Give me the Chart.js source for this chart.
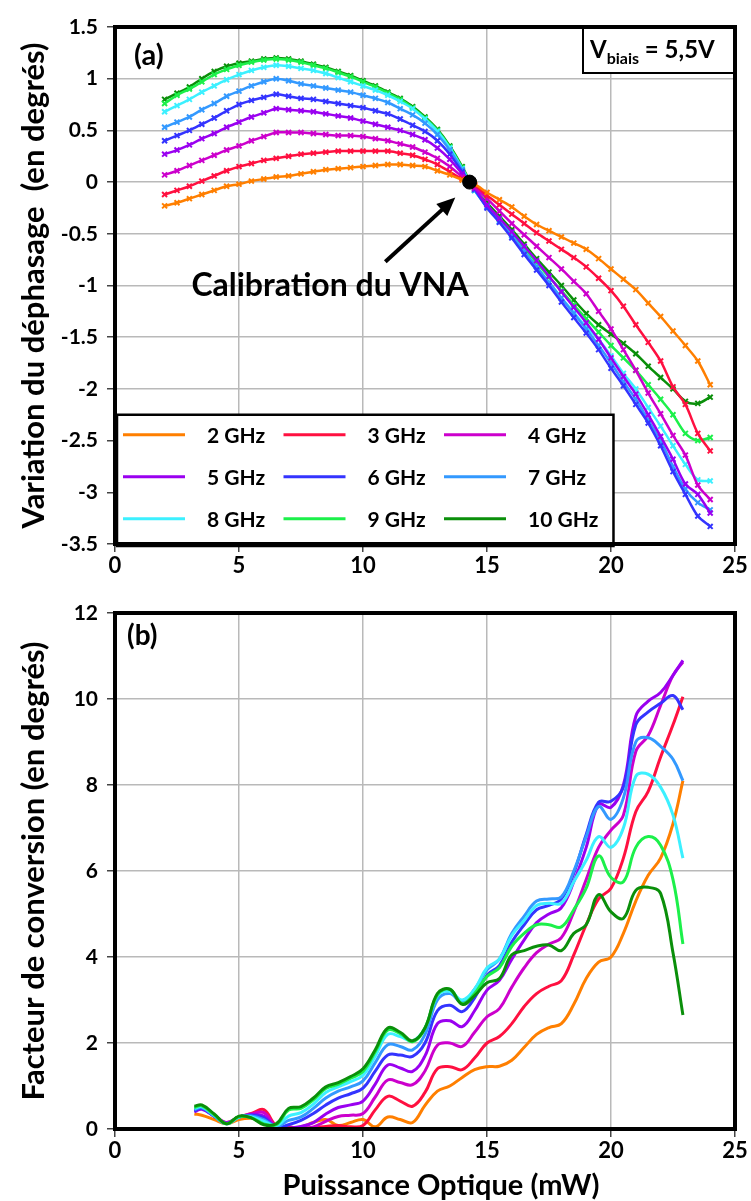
<!DOCTYPE html>
<html>
<head>
<meta charset="utf-8">
<script src="https://cdn.jsdelivr.net/npm/chart.js@4.4.1/dist/chart.umd.min.js"></script>
<style>
  html, body { margin: 0; padding: 0; background: #fff; }
  #wrapA { position: absolute; left: 0; top: 0; width: 751px; height: 590px; }
  #wrapB { position: absolute; left: 0; top: 590px; width: 751px; height: 611px; }
</style>
</head>
<body>
<div id="wrapA"><canvas id="phaseChart" width="751" height="590"></canvas></div>
<div id="wrapB"><canvas id="convChart" width="751" height="611"></canvas></div>
<script>
// ---- data (a) : phase variation vs optical power ----
const freqLabels = ['2 GHz','3 GHz','4 GHz','5 GHz','6 GHz','7 GHz','8 GHz','9 GHz','10 GHz'];
const colors = ['#ff7f00','#ff1040','#cc00cc','#9a00f0','#3434ff','#3399ff','#3cf0ff','#1cf04a','#0a8f0a'];

const powerA = [2,2.5,3,3.5,4,4.5,5,5.5,6,6.5,7,7.5,8,8.5,9,9.5,10,10.5,11,11.5,12,12.5,13,13.5,14,14.5,
  15,15.5,16,16.5,17,17.5,18,18.5,19,19.5,20,20.5,21,21.5,22,22.5,23,23.5,24];

const phase2 = [-0.23,-0.20,-0.16,-0.12,-0.08,-0.04,-0.02,0.01,0.03,0.05,0.06,0.08,0.10,0.12,0.13,0.14,0.15,0.16,0.17,0.17,
  0.16,0.15,0.11,0.07,0.02,-0.02,-0.10,-0.17,-0.24,-0.33,-0.41,-0.47,-0.53,-0.59,-0.65,-0.74,-0.84,-0.94,-1.04,-1.17,
  -1.30,-1.44,-1.58,-1.73,-1.96];
const phase3 = [-0.12,-0.08,-0.04,0.01,0.06,0.11,0.15,0.18,0.21,0.23,0.25,0.27,0.28,0.29,0.30,0.30,0.30,0.30,0.30,0.28,
  0.26,0.22,0.17,0.10,0.03,-0.03,-0.13,-0.22,-0.31,-0.40,-0.49,-0.57,-0.65,-0.73,-0.82,-0.93,-1.05,-1.20,-1.38,-1.55,
  -1.73,-1.98,-2.15,-2.43,-2.60];
const phase4 = [0.07,0.11,0.16,0.21,0.26,0.31,0.35,0.40,0.44,0.48,0.48,0.48,0.47,0.46,0.45,0.45,0.44,0.42,0.40,0.37,
  0.34,0.29,0.23,0.15,0.05,-0.05,-0.16,-0.28,-0.40,-0.51,-0.62,-0.73,-0.84,-0.96,-1.08,-1.25,-1.42,-1.62,-1.82,-2.04,
  -2.24,-2.45,-2.64,-2.93,-3.07];
const phase5 = [0.27,0.31,0.36,0.42,0.47,0.53,0.58,0.63,0.67,0.71,0.70,0.69,0.68,0.66,0.64,0.62,0.59,0.56,0.53,0.50,
  0.46,0.41,0.33,0.22,0.08,-0.06,-0.22,-0.35,-0.48,-0.62,-0.76,-0.91,-1.06,-1.21,-1.36,-1.52,-1.70,-1.88,-2.05,-2.25,
  -2.46,-2.68,-2.92,-3.02,-3.20];
const phase6 = [0.40,0.45,0.50,0.56,0.62,0.69,0.75,0.79,0.82,0.85,0.83,0.81,0.80,0.78,0.76,0.74,0.72,0.69,0.66,0.61,
  0.55,0.49,0.40,0.27,0.10,-0.07,-0.25,-0.39,-0.54,-0.70,-0.85,-1.00,-1.16,-1.31,-1.46,-1.62,-1.80,-1.97,-2.15,-2.33,
  -2.55,-2.80,-3.02,-3.23,-3.33];
const phase7 = [0.53,0.58,0.63,0.70,0.76,0.83,0.88,0.93,0.97,1.00,0.98,0.95,0.93,0.91,0.89,0.87,0.84,0.81,0.77,0.71,
  0.65,0.57,0.46,0.31,0.12,-0.08,-0.24,-0.38,-0.52,-0.67,-0.82,-0.97,-1.12,-1.27,-1.42,-1.58,-1.75,-1.93,-2.10,-2.30,
  -2.50,-2.75,-2.97,-3.10,-3.17];
const phase8 = [0.68,0.74,0.80,0.87,0.93,0.99,1.04,1.08,1.11,1.13,1.12,1.10,1.08,1.05,1.01,0.97,0.93,0.89,0.84,0.78,
  0.71,0.61,0.49,0.33,0.13,-0.08,-0.24,-0.38,-0.52,-0.67,-0.82,-0.97,-1.12,-1.26,-1.40,-1.52,-1.68,-1.85,-2.00,-2.18,
  -2.36,-2.55,-2.73,-2.88,-2.89];
const phase9 = [0.76,0.84,0.90,0.97,1.04,1.09,1.13,1.16,1.18,1.19,1.18,1.16,1.13,1.10,1.06,1.02,0.97,0.92,0.86,0.80,
  0.72,0.62,0.50,0.34,0.14,-0.08,-0.22,-0.36,-0.50,-0.64,-0.78,-0.92,-1.05,-1.19,-1.32,-1.45,-1.58,-1.70,-1.82,-1.96,
  -2.10,-2.25,-2.43,-2.50,-2.47];
const phase10 = [0.80,0.86,0.92,1.00,1.07,1.12,1.15,1.17,1.19,1.20,1.19,1.17,1.14,1.11,1.07,1.03,0.98,0.93,0.87,0.81,
  0.73,0.63,0.51,0.35,0.15,-0.07,-0.20,-0.33,-0.46,-0.60,-0.74,-0.87,-1.00,-1.14,-1.27,-1.38,-1.47,-1.56,-1.66,-1.78,
  -1.89,-2.00,-2.12,-2.14,-2.08];

const calibPoint = [14.3, 0];

// ---- data (b) : conversion factor vs optical power ----
const powerB = [3.2,3.5,4,4.5,5,5.5,6,6.5,7,7.5,8,8.5,9,9.5,10,10.5,11,11.5,12,12.5,13,13.5,14,14.5,
  15,15.5,16,16.5,17,17.5,18,18.5,19,19.5,20,20.5,21,21.5,22,22.5,22.9];

const conv2 = [0.35,0.32,0.22,0.12,0.22,0.25,0.20,0.05,0.02,0.05,0.15,0.22,0.08,0.15,0.22,0.05,0.28,0.22,0.15,0.55,
  0.88,1.00,1.20,1.38,1.45,1.46,1.60,1.90,2.20,2.36,2.45,2.90,3.50,3.88,4.00,4.55,5.30,5.90,6.30,7.10,8.10];
const conv3 = [0.45,0.48,0.30,0.15,0.28,0.36,0.45,0.08,0.05,0.02,0.03,0.06,0.08,0.05,0.08,0.45,0.76,0.65,0.53,0.85,
  1.40,1.45,1.38,1.65,2.00,2.15,2.45,2.85,3.15,3.32,3.45,4.05,4.75,5.35,5.60,6.30,7.38,7.85,8.65,9.40,10.05];
const conv4 = [0.42,0.48,0.32,0.15,0.28,0.35,0.38,0.05,0.00,0.02,0.05,0.18,0.29,0.32,0.36,0.75,1.14,1.08,1.03,1.35,
  1.95,2.00,1.92,2.25,2.61,2.80,3.30,3.75,4.10,4.30,4.45,5.05,5.80,6.55,6.95,7.30,8.78,9.15,9.85,10.55,10.86];
const conv5 = [0.40,0.46,0.30,0.14,0.28,0.33,0.30,0.03,0.02,0.06,0.15,0.35,0.50,0.56,0.65,1.05,1.49,1.42,1.34,1.70,
  2.45,2.52,2.38,2.75,3.23,3.46,3.95,4.40,4.80,5.00,5.15,5.75,6.55,7.55,7.48,8.00,9.60,9.95,10.15,10.55,10.90];
const conv6 = [0.42,0.48,0.30,0.13,0.28,0.32,0.26,0.04,0.10,0.20,0.36,0.56,0.72,0.82,0.95,1.35,1.72,1.72,1.69,2.00,
  2.75,2.88,2.73,3.05,3.58,3.80,4.35,4.75,5.10,5.20,5.35,5.95,6.85,7.60,7.62,7.95,9.40,9.70,9.90,10.08,9.75];
const conv7 = [0.45,0.50,0.30,0.12,0.28,0.30,0.22,0.06,0.20,0.28,0.48,0.72,0.88,0.98,1.12,1.55,1.96,1.92,1.84,2.20,
  3.00,3.15,2.95,3.25,3.70,3.95,4.55,4.95,5.30,5.35,5.40,6.00,6.80,7.50,7.20,7.70,9.00,9.10,8.90,8.60,8.10];
const conv8 = [0.48,0.52,0.32,0.12,0.28,0.28,0.18,0.08,0.30,0.38,0.58,0.85,0.98,1.10,1.25,1.70,2.20,2.15,2.05,2.35,
  3.10,3.20,3.00,3.25,3.75,3.95,4.50,4.85,5.20,5.25,5.25,5.75,6.25,6.80,6.55,7.00,8.20,8.25,7.95,7.30,6.30];
const conv9 = [0.50,0.54,0.33,0.12,0.29,0.26,0.12,0.10,0.44,0.48,0.68,0.94,1.04,1.18,1.34,1.80,2.30,2.22,2.03,2.35,
  3.12,3.25,2.92,3.15,3.55,3.75,4.25,4.55,4.75,4.75,4.70,5.10,5.60,6.35,5.85,5.75,6.55,6.80,6.60,5.80,4.30];
const conv10 = [0.53,0.56,0.35,0.12,0.30,0.26,0.10,0.12,0.48,0.52,0.72,0.98,1.08,1.22,1.40,1.85,2.35,2.25,2.05,2.35,
  3.15,3.25,2.90,3.10,3.40,3.50,4.05,4.15,4.25,4.28,4.15,4.55,4.75,5.45,5.05,4.90,5.55,5.62,5.48,4.10,2.65];

const phaseSeries = [phase2, phase3, phase4, phase5, phase6, phase7, phase8, phase9, phase10];
const convSeries = [conv2, conv3, conv4, conv5, conv6, conv7, conv8, conv9, conv10];

const FONT = 'Lato, "Open Sans", sans-serif';
Chart.defaults.font.family = FONT;
Chart.defaults.font.weight = 'bold';
Chart.defaults.color = '#000';

function pairs(xs, ys) {
  return ys.map((v, i) => ({ x: xs[i], y: v }));
}
const tickFmt = v => String(Math.round(v * 10) / 10);

// thick black frame around the plot area
const framePlugin = {
  id: 'frame',
  afterDraw(chart) {
    const { ctx, chartArea: a } = chart;
    ctx.save();
    ctx.strokeStyle = '#000';
    ctx.lineWidth = 4;
    ctx.strokeRect(a.left, a.top, a.right - a.left, a.bottom - a.top);
    ctx.restore();
  }
};

// labels, arrow, bias box and legend for panel (a)
const notesA = {
  id: 'notesA',
  afterDatasetsDraw(chart) {
    const { ctx, chartArea: a, scales: { x: xs, y: ys } } = chart;
    ctx.save();
    ctx.fillStyle = '#000';
    ctx.textBaseline = 'middle';
    ctx.font = 'bold 29px ' + FONT;
    ctx.fillText('(a)', a.left + 19, a.top + 29);

    // bias box
    const bl = a.right - 152, bt = a.top;
    ctx.fillStyle = '#fff';
    ctx.fillRect(bl, bt, 152, 46);
    ctx.strokeStyle = '#000';
    ctx.lineWidth = 2;
    ctx.strokeRect(bl, bt, 152, 46);
    ctx.fillStyle = '#000';
    ctx.textBaseline = 'alphabetic';
    let tx = bl + 7;
    ctx.font = 'bold 24px ' + FONT;
    ctx.fillText('V', tx, bt + 31);
    tx += ctx.measureText('V').width;
    ctx.font = 'bold 16px ' + FONT;
    ctx.fillText('biais', tx, bt + 37);
    tx += ctx.measureText('biais').width;
    ctx.font = 'bold 24px ' + FONT;
    ctx.fillText(' = 5,5V', tx, bt + 31);

    // arrow to calibration point
    const x0 = xs.getPixelForValue(10.9), y0 = ys.getPixelForValue(-0.77);
    const x1 = xs.getPixelForValue(13.72), y1 = ys.getPixelForValue(-0.15);
    const ang = Math.atan2(y1 - y0, x1 - x0);
    ctx.strokeStyle = '#000';
    ctx.lineWidth = 4;
    ctx.beginPath();
    ctx.moveTo(x0, y0);
    ctx.lineTo(x1 - 10 * Math.cos(ang), y1 - 10 * Math.sin(ang));
    ctx.stroke();
    ctx.beginPath();
    ctx.moveTo(x1, y1);
    ctx.lineTo(x1 - 20 * Math.cos(ang - 0.42), y1 - 20 * Math.sin(ang - 0.42));
    ctx.lineTo(x1 - 20 * Math.cos(ang + 0.42), y1 - 20 * Math.sin(ang + 0.42));
    ctx.closePath();
    ctx.fill();

    ctx.font = 'bold 32px ' + FONT;
    ctx.textAlign = 'center';
    ctx.textBaseline = 'middle';
    ctx.fillText('Calibration du VNA', xs.getPixelForValue(8.67), ys.getPixelForValue(-1.0));

    // legend
    const lx = xs.getPixelForValue(0) + 2, lr = xs.getPixelForValue(20.1);
    const lt = ys.getPixelForValue(-2.25), lb = a.bottom + 2;
    ctx.fillStyle = '#fff';
    ctx.fillRect(lx, lt, lr - lx, lb - lt);
    ctx.strokeStyle = '#000';
    ctx.lineWidth = 2.5;
    ctx.strokeRect(lx, lt, lr - lx, lb - lt);
    ctx.textAlign = 'left';
    ctx.font = 'bold 21px ' + FONT;
    freqLabels.forEach((lab, i) => {
      const cx = lx + 6 + (i % 3) * 160.5;
      const cy = lt + 20 + Math.floor(i / 3) * 42;
      ctx.strokeStyle = colors[i];
      ctx.lineWidth = 3;
      ctx.beginPath();
      ctx.moveTo(cx, cy);
      ctx.lineTo(cx + 62, cy);
      ctx.stroke();
      ctx.fillStyle = '#000';
      ctx.fillText(lab, cx + 84, cy + 1);
    });
    ctx.restore();
  }
};

// panel label and x-axis title for panel (b)
const notesB = {
  id: 'notesB',
  afterDatasetsDraw(chart) {
    const { ctx, chartArea: a, width, height } = chart;
    ctx.save();
    ctx.fillStyle = '#000';
    ctx.textBaseline = 'middle';
    ctx.font = 'bold 28px ' + FONT;
    ctx.fillText('(b)', a.left + 12, a.top + 23);
    ctx.textAlign = 'center';
    ctx.font = 'bold 29px ' + FONT;
    ctx.fillText('Puissance Optique (mW)', 441, height - 15);
    ctx.restore();
  }
};

const gridStyle = { color: '#b9b9b9', lineWidth: 1.5, tickLength: 8, tickColor: '#444' };

new Chart(document.getElementById('phaseChart'), {
  type: 'line',
  data: {
    datasets: phaseSeries.map((s, i) => ({
      label: freqLabels[i],
      data: pairs(powerA, s),
      borderColor: colors[i],
      backgroundColor: colors[i],
      borderWidth: 2.5,
      pointStyle: 'crossRot',
      pointRadius: 3.5,
      pointBorderWidth: 2,
      tension: 0.3
    })).concat([{
      label: 'calibration',
      data: [{ x: calibPoint[0], y: calibPoint[1] }],
      showLine: false,
      pointRadius: 7,
      pointBackgroundColor: '#000',
      pointBorderColor: '#000',
      order: -1
    }])
  },
  options: {
    responsive: false,
    animation: false,
    layout: { padding: { left: 0, right: 16, top: 27, bottom: 0 } },
    plugins: { legend: { display: false }, tooltip: { enabled: false } },
    scales: {
      x: {
        type: 'linear', min: 0, max: 25,
        ticks: { stepSize: 5, font: { size: 22, weight: 'bold' }, padding: 1, maxRotation: 0 },
        grid: gridStyle,
        border: { display: false },
        afterFit(s) { s.height = 46; }
      },
      y: {
        min: -3.5, max: 1.5,
        ticks: { stepSize: 0.5, font: { size: 21, weight: 'bold' }, padding: 9, callback: tickFmt },
        grid: gridStyle,
        border: { display: false },
        title: {
          display: true,
          text: 'Variation du déphasage  (en degrés)',
          font: { size: 31, weight: 'bold' },
          padding: { top: 15, bottom: 0 }
        },
        afterFit(s) { s.width = 115; }
      }
    }
  },
  plugins: [notesA, framePlugin]
});

new Chart(document.getElementById('convChart'), {
  type: 'line',
  data: {
    datasets: convSeries.map((s, i) => ({
      label: freqLabels[i],
      data: pairs(powerB, s),
      borderColor: colors[i],
      backgroundColor: colors[i],
      borderWidth: 3,
      pointRadius: 0,
      tension: 0.4,
      order: 8 - i
    }))
  },
  options: {
    responsive: false,
    animation: false,
    layout: { padding: { left: 0, right: 16, top: 23, bottom: 0 } },
    plugins: { legend: { display: false }, tooltip: { enabled: false } },
    scales: {
      x: {
        type: 'linear', min: 0, max: 25,
        ticks: { stepSize: 5, font: { size: 22, weight: 'bold' }, padding: 1, maxRotation: 0 },
        grid: gridStyle,
        border: { display: false },
        afterFit(s) { s.height = 72; }
      },
      y: {
        min: 0, max: 12,
        ticks: { stepSize: 2, font: { size: 21, weight: 'bold' }, padding: 9 },
        grid: gridStyle,
        border: { display: false },
        title: {
          display: true,
          text: 'Facteur de conversion (en degrés)',
          font: { size: 31, weight: 'bold' },
          padding: { top: 15, bottom: 0 }
        },
        afterFit(s) { s.width = 115; }
      }
    }
  },
  plugins: [notesB, framePlugin]
});
</script>
</body>
</html>
